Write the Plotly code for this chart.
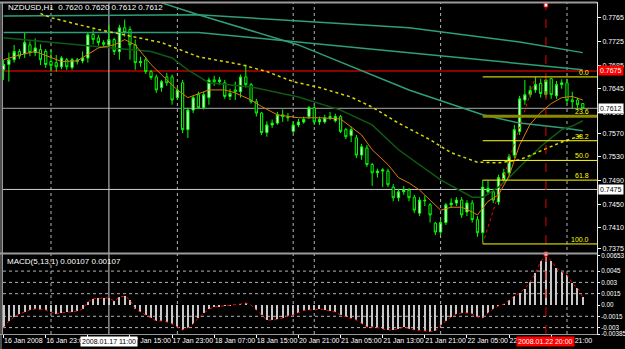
import plotly.graph_objects as go

# ---------------- data ----------------
bars = list(range(111))  # H1 bars, 0 = 16 Jan 2008 15:00

opens = [0.7677,0.7686,0.7694,0.7708,0.7704,0.7719,0.7706,0.7711,0.7708,0.7691,
         0.7689,0.7682,0.7694,0.7681,0.7694,0.7692,0.7697,0.7737,0.7731,0.7723,
         0.7719,0.7728,0.7708,0.7748,0.7745,0.7719,0.7689,0.7694,0.7674,0.7665,
         0.7647,0.7665,0.7665,0.7630,0.7655,0.7576,0.7609,0.7635,0.7613,0.7630,
         0.7660,0.7657,0.7655,0.7632,0.7643,0.7640,0.7665,0.7652,0.7623,0.7604,
         0.7571,0.7584,0.7587,0.7601,0.7598,0.7573,0.7584,0.7589,0.7598,0.7613,
         0.7589,0.7589,0.7596,0.7591,0.7598,0.7576,0.7566,0.7562,0.7533,0.7545,
         0.7517,0.7503,0.7506,0.7506,0.7479,0.7461,0.7471,0.7474,0.7462,0.7435,
         0.7457,0.7449,0.7418,0.7403,0.7419,0.7449,0.7452,0.7457,0.7437,0.7452,
         0.7424,0.7402,0.7471,0.7471,0.7454,0.7491,0.7503,0.7533,0.7573,0.7626,
         0.7635,0.7643,0.7654,0.7635,0.7662,0.7633,0.7652,0.7655,0.7626,0.7626,
         0.7620]
highs = [0.7694,0.7706,0.7719,0.7712,0.7740,0.7725,0.7730,0.7720,0.7712,0.7711,
         0.7702,0.7700,0.7697,0.7697,0.7697,0.7708,0.7740,0.7745,0.7736,0.7727,
         0.7753,0.7731,0.7753,0.7762,0.7750,0.7728,0.7699,0.7699,0.7677,0.7669,
         0.7660,0.7672,0.7669,0.7647,0.7660,0.7613,0.7633,0.7640,0.7640,0.7664,
         0.7667,0.7665,0.7660,0.7645,0.7657,0.7669,0.7686,0.7655,0.7628,0.7606,
         0.7590,0.7593,0.7606,0.7610,0.7604,0.7589,0.7594,0.7598,0.7616,0.7616,
         0.7598,0.7601,0.7606,0.7603,0.7601,0.7579,0.7581,0.7567,0.7552,0.7550,
         0.7520,0.7510,0.7511,0.7510,0.7484,0.7476,0.7481,0.7477,0.7466,0.7462,
         0.7465,0.7452,0.7420,0.7424,0.7452,0.7460,0.7462,0.7462,0.7457,0.7457,
         0.7430,0.7491,0.7490,0.7476,0.7500,0.7510,0.7535,0.7584,0.7633,0.7660,
         0.7650,0.7665,0.7662,0.7662,0.7663,0.7658,0.7661,0.7662,0.7640,0.7630,
         0.7620]
lows = [0.7660,0.7657,0.7689,0.7695,0.7697,0.7700,0.7700,0.7685,0.7680,0.7674,
        0.7674,0.7678,0.7677,0.7677,0.7686,0.7688,0.7689,0.7720,0.7718,0.7716,
        0.7716,0.7702,0.7694,0.7733,0.7694,0.7677,0.7682,0.7670,0.7660,0.7638,
        0.7640,0.7650,0.7618,0.7626,0.7570,0.7562,0.7604,0.7611,0.7610,0.7618,
        0.7650,0.7652,0.7628,0.7626,0.7626,0.7630,0.7647,0.7620,0.7598,0.7567,
        0.7564,0.7579,0.7584,0.7589,0.7590,0.7570,0.7580,0.7586,0.7594,0.7584,
        0.7584,0.7586,0.7592,0.7588,0.7570,0.7560,0.7555,0.7528,0.7525,0.7513,
        0.7481,0.7495,0.7479,0.7479,0.7455,0.7455,0.7466,0.7455,0.7435,0.7430,
        0.7447,0.7419,0.7398,0.7398,0.7415,0.7444,0.7447,0.7427,0.7430,0.7419,
        0.7395,0.7383,0.7466,0.7452,0.7449,0.7486,0.7498,0.7528,0.7567,0.7618,
        0.7630,0.7638,0.7630,0.7630,0.7628,0.7628,0.7645,0.7620,0.7611,0.7609,
        0.7612]
closes = [0.7686,0.7694,0.7708,0.7700,0.7723,0.7706,0.7714,0.7694,0.7686,0.7684,
          0.7682,0.7697,0.7682,0.7694,0.7691,0.7697,0.7736,0.7728,0.7723,0.7720,
          0.7728,0.7708,0.7748,0.7740,0.7719,0.7689,0.7691,0.7674,0.7664,0.7643,
          0.7657,0.7655,0.7626,0.7643,0.7576,0.7609,0.7630,0.7613,0.7635,0.7660,
          0.7657,0.7660,0.7632,0.7637,0.7640,0.7665,0.7652,0.7623,0.7604,0.7571,
          0.7584,0.7587,0.7601,0.7598,0.7596,0.7584,0.7589,0.7593,0.7613,0.7589,
          0.7593,0.7596,0.7598,0.7598,0.7573,0.7564,0.7576,0.7533,0.7547,0.7517,
          0.7503,0.7506,0.7508,0.7483,0.7461,0.7471,0.7474,0.7461,0.7440,0.7457,
          0.7456,0.7432,0.7403,0.7419,0.7449,0.7452,0.7457,0.7432,0.7452,0.7424,
          0.7402,0.7479,0.7477,0.7457,0.7495,0.7503,0.7530,0.7576,0.7628,0.7635,
          0.7642,0.7652,0.7637,0.7660,0.7635,0.7652,0.7655,0.7625,0.7623,0.7618,
          0.7612]

# moving averages (bar index, price)
ema_fast_x = [0,3,6,11,14,18,21,23,25,28,31,33,35,39,42,44,47,49,52,56,60,64,68,70,73,75,77,79,81,83,85,87,89,90,92,94,96,98,100,102,104,106,108,110]
ema_fast_y = [0.7694,0.7702,0.7708,0.7691,0.7692,0.7714,0.7719,0.7728,0.7719,0.7686,0.7660,0.7643,0.7630,0.7643,0.7643,0.7638,0.7626,0.7615,0.7601,0.7596,0.7596,0.7594,0.7567,0.7542,0.7517,0.7495,0.7486,0.7474,0.7457,0.7440,0.7445,0.7445,0.7437,0.7432,0.7455,0.7466,0.7498,0.7550,0.7585,0.7605,0.7620,0.7630,0.7632,0.7626]
ma_mid_x = [0,9,18,28,32,35,39,47,56,64,70,75,83,89,91,94,96,98,100,102,104,106,108,110]
ma_mid_y = [0.7731,0.7723,0.7716,0.7708,0.7697,0.7677,0.7655,0.7648,0.7631,0.7609,0.7584,0.7542,0.7491,0.7462,0.7462,0.7479,0.7495,0.7513,0.7530,0.7547,0.7562,0.7576,0.7582,0.7591]
ma_dot_x = [7,9,18,30,37,45,50,55,60,66,70,75,81,85,90,94,98,102,106,110]
ma_dot_y = [0.7772,0.7765,0.7745,0.7723,0.7699,0.7686,0.7674,0.7657,0.7647,0.7631,0.7614,0.7587,0.7559,0.7537,0.7521,0.7520,0.7525,0.7540,0.7555,0.7567]
ma_long1_x = [0,37,77,98,110]
ma_long1_y = [0.7768,0.7770,0.7748,0.7724,0.7706]
ma_long2_x = [0,37,77,110]
ma_long2_y = [0.7740,0.7740,0.7706,0.7677]
ma_long3_x = [30,37,56,77,91,98,106,110]
ma_long3_y = [0.7790,0.7770,0.7719,0.7643,0.7601,0.7587,0.7579,0.7574]

macd = [-0.00305,-0.00212,-0.00159,-0.00119,-0.00093,-0.00066,-0.00053,-0.00060,-0.00066,-0.00093,
        -0.00119,-0.00106,-0.00093,-0.00093,-0.00080,-0.00053,0.00040,0.00086,0.00093,0.00093,
        0.00093,0.00053,0.00106,0.00119,0.00066,-0.00053,-0.00093,-0.00133,-0.00172,-0.00212,
        -0.00212,-0.00226,-0.00252,-0.00292,-0.00332,-0.00305,-0.00252,-0.00172,-0.00106,-0.00053,
        -0.00027,-0.00020,-0.00013,-0.00007,0.00000,0.00013,0.00027,0.00000,-0.00066,-0.00133,
        -0.00200,-0.00200,-0.00192,-0.00172,-0.00146,-0.00133,-0.00106,-0.00073,-0.00066,-0.00066,
        -0.00053,-0.00066,-0.00080,-0.00093,-0.00133,-0.00159,-0.00179,-0.00200,-0.00252,-0.00292,
        -0.00292,-0.00299,-0.00318,-0.00332,-0.00332,-0.00318,-0.00292,-0.00312,-0.00332,-0.00338,
        -0.00345,-0.00352,-0.00345,-0.00265,-0.00212,-0.00159,-0.00119,-0.00106,-0.00106,-0.00119,
        -0.00159,-0.00172,-0.00106,-0.00053,-0.00013,0.00013,0.00060,0.00119,0.00159,0.00219,
        0.00305,0.00425,0.00580,0.00653,0.00590,0.00490,0.00440,0.00400,0.00290,0.00226,
        0.00107]

x_tick_bars = [0,8,16,24,32,40,48,56,64,72,80,88,96,104]
x_tick_text = ["16 Jan 2008","16 Jan 23:00","17 Jan 07:00","17 Jan 15:00","17 Jan 23:00",
               "18 Jan 07:00","18 Jan 15:00","20 Jan 21:00","21 Jan 05:00","21 Jan 13:00",
               "21 Jan 21:00","22 Jan 05:00","22 Jan 13:00","22 Jan 21:00"]
price_ticks = [0.7765,0.7725,0.7685,0.7645,0.7605,0.7570,0.7530,0.7490,0.7450,0.7410,0.7375]
macd_ticks = [0.00653,0.0045,0.003,0.0015,0.0,-0.0015,-0.003,-0.00385]
macd_tick_text = ["0.00653","0.0045","0.003","0.0015","0.00","-0.0015","-0.003","-0.00385"]
separator_bars = [9,33,55,59,83,107]
macd_grid = [0.0045,0.003,0.0015,-0.0015,-0.003]

fib_low_bar, fib_low = 91, 0.7383
fib_high_bar, fib_high = 101, 0.7665
fib_levels = [0.0,23.6,38.2,50.0,61.8,100.0]

bid_price = 0.7612
red_level = 0.7675
cross_price = 0.7475
cross_bar, cross_label = 20, "2008.01.17 11:00"
cursor_bar, cursor_label = 103, "2008.01.22 20:00"

title_text = "NZDUSD,H1  0.7620 0.7620 0.7612 0.7612"
macd_text = "MACD(5,13,1) 0.00107 0.00107"

# ---------------- layout geometry ----------------
W, H = 625, 349
def px(v): return v / W
def py(v): return 1 - v / H
X_RANGE = [-0.114, 112.7]
FONT = "Liberation Sans"

fig = go.Figure()

fig.add_trace(go.Candlestick(
    x=bars, open=opens, high=highs, low=lows, close=closes,
    increasing=dict(line=dict(color="#00ff00", width=1), fillcolor="#ffffff"),
    decreasing=dict(line=dict(color="#00ff00", width=1), fillcolor="#000000"),
    whiskerwidth=0, xaxis="x", yaxis="y", showlegend=False, hoverinfo="skip"))

def ma(xs, ys, color, width=1, dash="solid"):
    fig.add_trace(go.Scatter(x=xs, y=ys, mode="lines", xaxis="x", yaxis="y",
                             line=dict(color=color, width=width, dash=dash),
                             showlegend=False, hoverinfo="skip"))

ma(ma_long1_x, ma_long1_y, "#2e9f78", 1.5)
ma(ma_long2_x, ma_long2_y, "#2e9f78", 1.5)
ma(ma_long3_x, ma_long3_y, "#2e9f78", 1.5)
ma(ma_mid_x, ma_mid_y, "#0f5a12", 1.5)
ma(ma_dot_x, ma_dot_y, "#d8d800", 1.5, "dot")
ma(ema_fast_x, ema_fast_y, "#e07a10", 1)

# fib trend line
fig.add_trace(go.Scatter(x=[fib_low_bar, fib_high_bar], y=[fib_low, fib_high], mode="lines",
                         xaxis="x", yaxis="y", line=dict(color="#ff0000", width=1, dash="dot"),
                         showlegend=False, hoverinfo="skip"))

# MACD
fig.add_trace(go.Bar(x=bars, y=macd, xaxis="x2", yaxis="y2", width=0.22,
                     marker=dict(color="#c8c8c8", line=dict(width=0)),
                     showlegend=False, hoverinfo="skip"))
fig.add_trace(go.Scatter(x=bars, y=macd, mode="lines", xaxis="x2", yaxis="y2",
                         line=dict(color="#ff0000", width=1, dash="dot"),
                         showlegend=False, hoverinfo="skip"))

shapes = []
# period separators
for b in separator_bars:
    shapes.append(dict(type="line", xref="x", yref="paper", x0=b, x1=b, y0=py(334), y1=py(3),
                       line=dict(color="#b4b4b4", width=1, dash="dot"), layer="below"))
# macd grid
for g in macd_grid:
    shapes.append(dict(type="line", xref="paper", yref="y2", x0=px(3), x1=px(597), y0=g, y1=g,
                       line=dict(color="#b4b4b4", width=1, dash="dot"), layer="below"))
# horizontal lines in price pane
shapes.append(dict(type="line", xref="paper", yref="y", x0=px(3), x1=px(597), y0=red_level, y1=red_level,
                   line=dict(color="#8b0000", width=2), layer="below"))
shapes.append(dict(type="line", xref="paper", yref="y", x0=px(3), x1=px(597), y0=bid_price, y1=bid_price,
                   line=dict(color="#a8a8a8", width=1), layer="below"))
shapes.append(dict(type="line", xref="paper", yref="y", x0=px(3), x1=px(597), y0=cross_price, y1=cross_price,
                   line=dict(color="#d0d0d0", width=1), layer="below"))
# crosshair verticals
shapes.append(dict(type="line", xref="x", yref="paper", x0=cross_bar, x1=cross_bar, y0=py(334), y1=py(3),
                   line=dict(color="#d0d0d0", width=1), layer="below"))
shapes.append(dict(type="line", xref="x", yref="paper", x0=cursor_bar, x1=cursor_bar, y0=py(334), y1=py(5),
                   line=dict(color="#e00000", width=1, dash="dash")))
for yy in (5, 254):
    shapes.append(dict(type="rect", xref="x", yref="paper", x0=cursor_bar - 0.35, x1=cursor_bar + 0.35,
                       y0=py(yy + 2), y1=py(yy - 2), line=dict(color="#ff0000", width=1), fillcolor="#ffffff"))
# fib levels
rng = fib_high - fib_low
for lv in fib_levels:
    val = fib_high - rng * lv / 100.0
    col, wd = ("#8a8a00", 3) if lv == 23.6 else ("#ffff00", 1)
    shapes.append(dict(type="line", xref="x", yref="y", x0=fib_low_bar, x1=X_RANGE[1], y0=val, y1=val,
                       line=dict(color=col, width=wd)))
# frame
shapes += [
    dict(type="line", xref="paper", yref="paper", x0=0, x1=px(597), y0=py(2.5), y1=py(2.5), line=dict(color="#9a9a9a", width=2)),
    dict(type="line", xref="paper", yref="paper", x0=px(1), x1=px(1), y0=py(349), y1=py(2), line=dict(color="#9a9a9a", width=1)),
    dict(type="line", xref="paper", yref="paper", x0=px(2.5), x1=px(2.5), y0=py(334), y1=py(2), line=dict(color="#9a9a9a", width=1)),
    dict(type="line", xref="paper", yref="paper", x0=0, x1=px(597), y0=py(253.5), y1=py(253.5), line=dict(color="#9a9a9a", width=2)),
    dict(type="line", xref="paper", yref="paper", x0=0, x1=px(597), y0=py(334.5), y1=py(334.5), line=dict(color="#9a9a9a", width=1)),
    dict(type="line", xref="paper", yref="paper", x0=px(597.5), x1=px(597.5), y0=py(335), y1=py(2), line=dict(color="#e0e0e0", width=1)),
]

ann = []
ann.append(dict(text=title_text, xref="paper", yref="paper", x=px(6), y=py(8), xanchor="left", yanchor="middle",
                showarrow=False, font=dict(color="#ffffff", size=8, family=FONT)))
ann.append(dict(text=macd_text, xref="paper", yref="paper", x=px(5), y=py(261), xanchor="left", yanchor="middle",
                showarrow=False, font=dict(color="#ffffff", size=8, family=FONT)))
for lv in fib_levels:
    val = fib_high - rng * lv / 100.0
    ann.append(dict(text=f"{lv:.1f}", xref="x", yref="y", x=111.5, y=val, xanchor="right", yanchor="bottom",
                    showarrow=False, font=dict(color="#ffff00", size=7, family=FONT), yshift=-1))
def box(text, x, y, xref, yref, bg, fg, xanchor="left"):
    ann.append(dict(text=text, xref=xref, yref=yref, x=x, y=y, xanchor=xanchor, yanchor="middle",
                    showarrow=False, bgcolor=bg, borderpad=1, font=dict(color=fg, size=7, family=FONT)))
box(f"{red_level:.4f}", px(598), red_level, "paper", "y", "#ff0000", "#ffffff")
box(f"{bid_price:.4f}", px(598), bid_price, "paper", "y", "#ffffff", "#000000")
box(f"{cross_price:.4f}", px(598), cross_price, "paper", "y", "#ffffff", "#000000")
box(cross_label, cross_bar, py(341), "x", "paper", "#ffffff", "#000000", "center")
box(cursor_label, cursor_bar, py(341), "x", "paper", "#ff0000", "#ffffff", "center")

axis_common = dict(showgrid=False, zeroline=False, showline=False, color="#ffffff", automargin=False)
tf7 = dict(color="#ffffff", size=7, family=FONT)
tf6 = dict(color="#ffffff", size=6.3, family=FONT)
fig.update_layout(
    width=W, height=H, margin=dict(l=0, r=0, t=0, b=0, autoexpand=False),
    paper_bgcolor="#000000", plot_bgcolor="#000000", showlegend=False,
    bargap=0, boxgap=0.4,
    xaxis=dict(domain=[px(3), px(597)], range=X_RANGE, anchor="y", showticklabels=False,
               rangeslider=dict(visible=False), **axis_common),
    xaxis2=dict(domain=[px(3), px(597)], range=X_RANGE, anchor="y2", matches="x",
                tickmode="array", tickvals=x_tick_bars, ticktext=x_tick_text, tickangle=0,
                ticks="outside", ticklen=3, tickcolor="#ffffff", ticklabelposition="outside right",
                tickfont=tf7, **axis_common),
    yaxis=dict(domain=[py(253), py(3)], range=[0.73677, 0.77898], anchor="x", side="right",
               tickmode="array", tickvals=price_ticks, ticktext=[f"{v:.4f}" for v in price_ticks],
               ticks="outside", ticklen=3, tickcolor="#ffffff", tickfont=tf7, **axis_common),
    yaxis2=dict(domain=[py(334), py(254)], range=[-0.00385, 0.00677], anchor="x2", side="right",
                tickmode="array", tickvals=macd_ticks, ticktext=macd_tick_text,
                ticks="outside", ticklen=2, tickcolor="#ffffff", tickfont=tf6, **axis_common),
    shapes=shapes, annotations=ann,
)

fig.write_html("out.html")
